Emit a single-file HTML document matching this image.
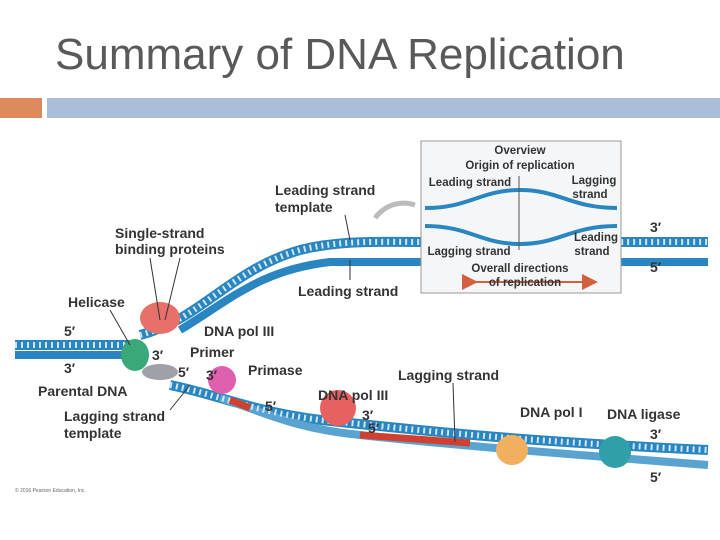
<!DOCTYPE html>
<html><head><meta charset="utf-8">
<style>
body{margin:0;width:720px;height:540px;background:#fff;overflow:hidden;font-family:"Liberation Sans",sans-serif;}
.t{position:absolute;left:55px;top:30px;font-size:44px;color:#595959;}
.l{font-family:"Liberation Sans",sans-serif;font-weight:bold;fill:#333;font-size:14px;}
.s{font-family:"Liberation Sans",sans-serif;font-weight:bold;fill:#333;font-size:11.5px;}
</style></head><body>
<div class="t">Summary of DNA Replication</div>
<div style="position:absolute;left:0;top:98px;width:42px;height:20px;background:#dd8a5e"></div>
<div style="position:absolute;left:47px;top:98px;width:673px;height:20px;background:#a9bfd8"></div>
<svg width="720" height="540" style="position:absolute;left:0;top:0">
<defs>
<marker id="a" markerWidth="8" markerHeight="8" refX="4" refY="4" orient="auto"><path d="M0,0L8,4L0,8z" fill="#d06040"/></marker>
</defs>
<g fill="none" stroke-linecap="butt">
<path d="M15,345 L130,345" stroke="#2a86c0" stroke-width="10"/>
<path d="M15,355 L130,355" stroke="#2a86c0" stroke-width="8"/>
<path d="M140,335 C200,320 230,270 300,250 C340,240 380,242 420,242 L708,242" stroke="#2a86c0" stroke-width="10"/>
<path d="M180,330 C230,300 260,270 330,262 L708,262" stroke="#2a86c0" stroke-width="8"/>
<path d="M170,385 C220,395 260,415 340,422 C420,430 500,440 708,450" stroke="#2a86c0" stroke-width="10"/>
<path d="M220,398 C260,410 290,428 360,435 C440,444 540,452 708,465" stroke="#5aa3d0" stroke-width="8"/>
<path d="M15,345 L130,345" stroke="#cfe6f5" stroke-width="6" stroke-dasharray="2 4"/>
<path d="M140,335 C200,320 230,270 300,250 C340,240 380,242 420,242 L708,242" stroke="#cfe6f5" stroke-width="6" stroke-dasharray="2 4"/>
<path d="M170,385 C220,395 260,415 340,422 C420,430 500,440 708,450" stroke="#cfe6f5" stroke-width="6" stroke-dasharray="2 4"/>
<path d="M360,435 L470,443" stroke="#d04030" stroke-width="7"/>
<path d="M230,400 L250,408" stroke="#d04030" stroke-width="7"/>
</g>
<ellipse cx="160" cy="318" rx="20" ry="16" fill="#e8706a"/>
<ellipse cx="135" cy="355" rx="14" ry="16" fill="#3aa878"/>
<ellipse cx="160" cy="372" rx="18" ry="8" fill="#a0a0a8"/>
<ellipse cx="222" cy="380" rx="14" ry="14" fill="#e060b0"/>
<ellipse cx="338" cy="408" rx="18" ry="18" fill="#e86060"/>
<ellipse cx="512" cy="450" rx="16" ry="15" fill="#f0b060"/>
<ellipse cx="615" cy="452" rx="16" ry="16" fill="#30a0a8"/>
<rect x="421" y="141" width="200" height="152" fill="#f4f6f8" stroke="#999"/>
<path d="M425,208 C470,208 480,190 520,190 C560,190 570,208 617,208" stroke="#2a86c0" stroke-width="4" fill="none"/>
<path d="M425,226 C470,226 480,244 520,244 C560,244 570,226 617,226" stroke="#2a86c0" stroke-width="4" fill="none"/>
<line x1="519" y1="176" x2="519" y2="250" stroke="#555"/>
<line x1="470" y1="282" x2="590" y2="282" stroke="#d06040" stroke-width="2" marker-start="url(#a)" marker-end="url(#a)"/>
<path d="M415,205 C400,200 385,205 375,218" stroke="#bbb" stroke-width="5" fill="none"/>
<g class="s" text-anchor="middle">
<text x="520" y="154">Overview</text>
<text x="520" y="169">Origin of replication</text>
<text x="470" y="186">Leading strand</text>
<text x="594" y="184">Lagging</text><text x="590" y="198">strand</text>
<text x="469" y="255">Lagging strand</text>
<text x="596" y="241">Leading</text><text x="592" y="255">strand</text>
<text x="520" y="272">Overall directions</text>
<text x="525" y="286">of replication</text>
</g>
<g class="l">
<text x="275" y="195">Leading strand</text><text x="275" y="212">template</text>
<text x="115" y="238">Single-strand</text><text x="115" y="254">binding proteins</text>
<text x="298" y="296">Leading strand</text>
<text x="68" y="307">Helicase</text>
<text x="64" y="336">5′</text><text x="64" y="373">3′</text>
<text x="38" y="396">Parental DNA</text>
<text x="64" y="421">Lagging strand</text><text x="64" y="438">template</text>
<text x="204" y="336">DNA pol III</text>
<text x="190" y="357">Primer</text>
<text x="152" y="360">3′</text><text x="178" y="377">5′</text><text x="206" y="380">3′</text>
<text x="248" y="375">Primase</text>
<text x="398" y="380">Lagging strand</text>
<text x="318" y="400">DNA pol III</text>
<text x="265" y="411">5′</text><text x="362" y="420">3′</text><text x="368" y="433">5′</text>
<text x="520" y="417">DNA pol I</text>
<text x="607" y="419">DNA ligase</text>
<text x="650" y="232">3′</text><text x="650" y="272">5′</text>
<text x="650" y="439">3′</text><text x="650" y="482">5′</text>
</g>
<g stroke="#333" stroke-width="1">
<line x1="345" y1="215" x2="350" y2="240"/>
<line x1="150" y1="258" x2="160" y2="320"/>
<line x1="180" y1="258" x2="165" y2="320"/>
<line x1="350" y1="260" x2="350" y2="280"/>
<line x1="110" y1="310" x2="130" y2="345"/>
<line x1="453" y1="383" x2="455" y2="442"/>
<line x1="170" y1="410" x2="190" y2="385"/>
</g>
<text x="15" y="492" font-size="5" fill="#666" font-family="Liberation Sans">© 2016 Pearson Education, Inc.</text>
</svg>
</body></html>
